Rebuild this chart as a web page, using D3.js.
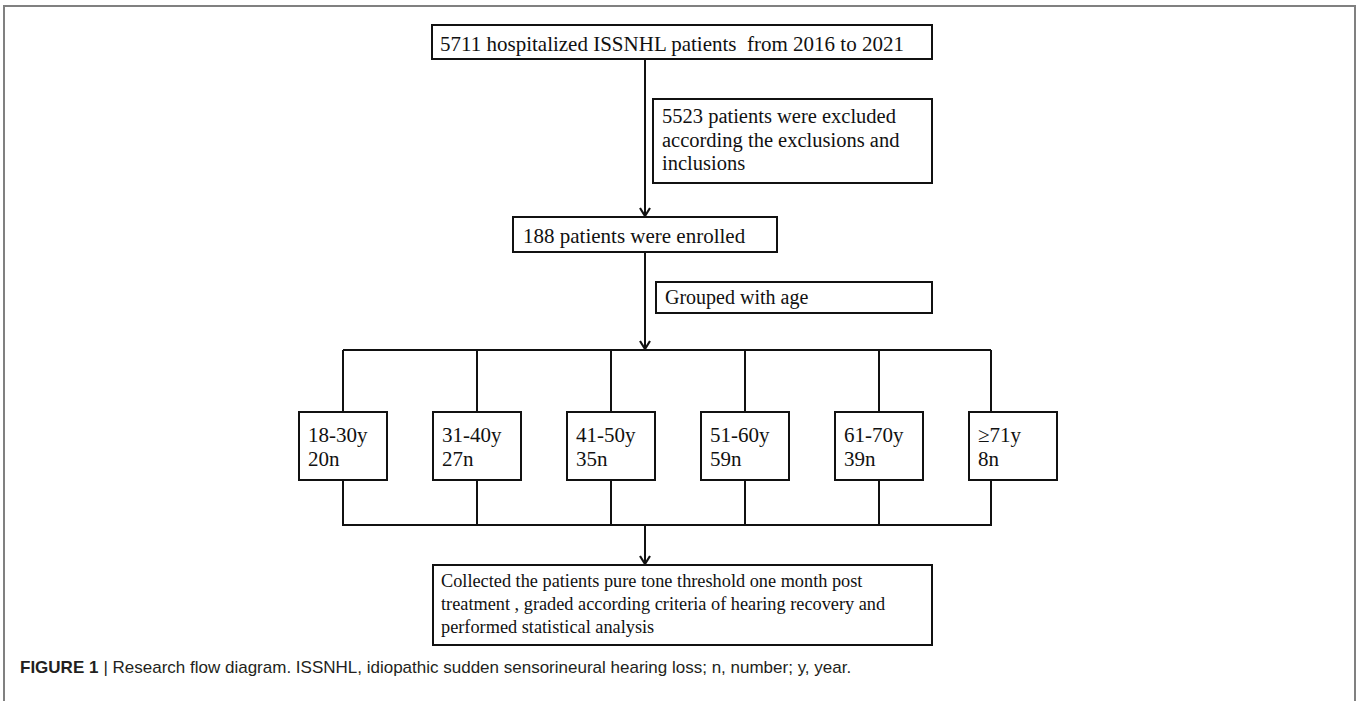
<!DOCTYPE html>
<html>
<head>
<meta charset="utf-8">
<script src="https://cdn.jsdelivr.net/npm/d3@7"></script>
<style>
  body { margin: 0; background: #fff; }
  svg { display: block; }
</style>
</head>
<body>
<svg id="chart" width="1357" height="701"></svg>
<script>
// flow steps
const topText = ['5711 hospitalized ISSNHL patients  from 2016 to 2021']
const excludedText = ['5523 patients were excluded', 'according the exclusions and', 'inclusions']
const enrolledText = ['188 patients were enrolled']
const groupedText = ['Grouped with age']
const finalText = [
  'Collected the patients pure tone threshold one month post',
  'treatment , graded according criteria of hearing recovery and',
  'performed statistical analysis'
]
// age groups
const ageGroups = ['18-30y', '31-40y', '41-50y', '51-60y', '61-70y', '\u226571y']
const groupCounts = [20, 27, 35, 59, 39, 8]
const captionLabel = 'FIGURE 1'
const captionText = 'Research flow diagram. ISSNHL, idiopathic sudden sensorineural hearing loss; n, number; y, year.'

const svg = d3.select('#chart')
const serif = '"Liberation Serif", "Times New Roman", serif'
const stemX = 645

// outer frame
svg.append('rect')
  .attr('x', 4).attr('y', 6)
  .attr('width', 1351).attr('height', 740)
  .attr('fill', 'none')
  .attr('stroke', '#808080')
  .attr('stroke-width', 2)

const g = svg.append('g')

function box(x, y, w, h, lines, size, lineGap, tx, ty) {
  g.append('rect')
    .attr('x', x).attr('y', y)
    .attr('width', w).attr('height', h)
    .attr('fill', '#fff')
    .attr('stroke', '#111')
    .attr('stroke-width', 2)
  g.append('g').selectAll('text')
    .data(lines)
    .enter().append('text')
      .attr('x', x + tx)
      .attr('y', (d, i) => y + ty + i * lineGap)
      .attr('font-family', serif)
      .attr('font-size', size)
      .attr('fill', '#111')
      .style('white-space', 'pre')
      .text(d => d)
}

function line(x1, y1, x2, y2) {
  g.append('line')
    .attr('x1', x1).attr('y1', y1)
    .attr('x2', x2).attr('y2', y2)
    .attr('stroke', '#111')
    .attr('stroke-width', 2)
}

function arrow(x, y1, y2) {
  line(x, y1, x, y2 - 1)
  g.append('path')
    .attr('d', `M${x - 5},${y2 - 9}L${x},${y2 - 1}L${x + 5},${y2 - 9}`)
    .attr('fill', 'none')
    .attr('stroke', '#111')
    .attr('stroke-width', 2.2)
}

// upper part
arrow(stemX, 59, 217)
box(432, 25, 500, 34, topText, 21, 0, 8, 26)
box(653, 99, 279, 84, excludedText, 20.5, 23.5, 9, 24)
arrow(stemX, 252, 350)
box(513, 217, 264, 35, enrolledText, 21, 0, 10, 26)
box(656, 282, 276, 31, groupedText, 20, 0, 9, 22)

// age groups
const x = d3.scalePoint().domain(ageGroups).range([343, 1013])
const boxW = 88, boxTop = 412, boxH = 68, barTop = 350, barBottom = 525

line(x(ageGroups[0]), barTop, x(ageGroups[ageGroups.length - 1]) - 22, barTop)
line(x(ageGroups[0]) - 1, barBottom, x(ageGroups[ageGroups.length - 1]) - 21, barBottom)

ageGroups.forEach((a, i) => {
  const cx = i === ageGroups.length - 1 ? x(a) - 22 : x(a)
  line(cx, barTop, cx, boxTop)
  line(cx, boxTop + boxH, cx, barBottom)
  box(x(a) - boxW / 2, boxTop, boxW, boxH, [a, groupCounts[i] + 'n'], 21, 24, 9, 30)
})

// final step
arrow(stemX, barBottom, 565)
box(433, 565, 499, 80, finalText, 18.3, 23, 8, 22)

// caption
const cap = svg.append('text')
  .attr('x', 20).attr('y', 673)
  .attr('font-family', '"Liberation Sans", Arial, sans-serif')
  .attr('font-size', 17)
  .attr('fill', '#231f20')
cap.append('tspan').attr('font-weight', 'bold').text(captionLabel)
cap.append('tspan').attr('dx', 5).text('| ' + captionText)
</script>
</body>
</html>
